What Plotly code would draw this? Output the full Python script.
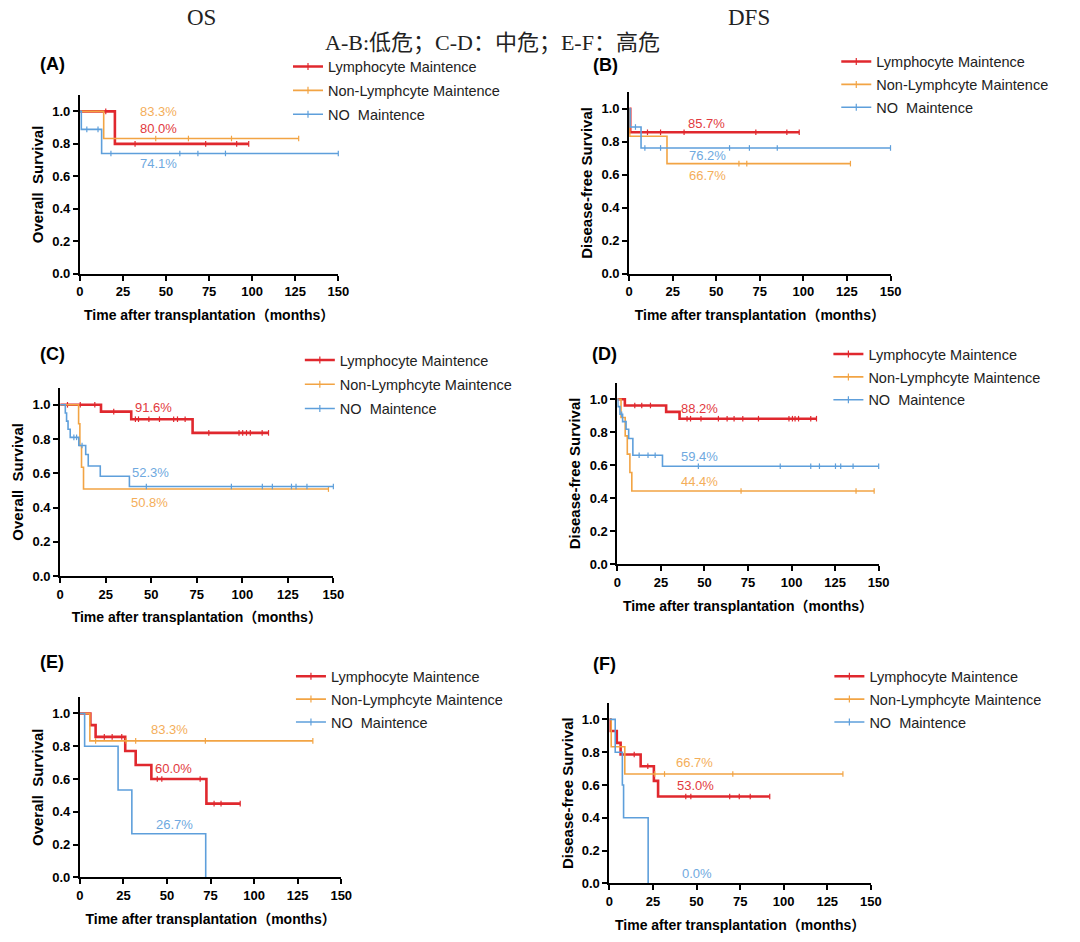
import plotly.graph_objects as go

W, H = 1080, 942
SANS = "Liberation Sans, Arial, Noto Sans CJK SC, sans-serif"
SERIF = "Liberation Serif, Noto Sans CJK SC, serif"

RED, ORANGE, BLUE = "#E0282E", "#F2A444", "#5E9FDB"
RED_T, ORANGE_T, BLUE_T = "#E23A40", "#F4AE5A", "#6FA9E0"

GROUPS = ["Lymphocyte Maintence", "Non-Lymphcyte Maintence", "NO\u00a0 Maintence"]
X_TICKS = [0, 25, 50, 75, 100, 125, 150]
Y_TICKS = [0.0, 0.2, 0.4, 0.6, 0.8, 1.0]
X_TITLE = "Time after transplantation（months）"
Y_TITLE_OS = "Overall\u00a0 Survival"
Y_TITLE_DFS = "Disease-free Survival"

# ---- Panel A (OS, low risk) ----
A_lym_t = [20.3]; A_lym_s = [0.80]; A_lym_end = 98
A_lym_c = [15, 32, 73, 91, 98]
A_non_t = [13.8]; A_non_s = [0.833]; A_non_end = 127
A_non_c = [44, 63, 88, 127]
A_no_t = [0.8, 12.6]; A_no_s = [0.889, 0.741]; A_no_end = 150
A_no_c = [4, 10.5, 18, 58, 68.5, 84.5, 150]
A_lab = ["80.0%", "83.3%", "74.1%"]
A_lab_x = [45.5, 45.5, 45.5]; A_lab_y = [0.895, 1.0, 0.682]

# ---- Panel B (DFS, low risk) ----
B_lym_t = [0.6]; B_lym_s = [0.857]; B_lym_end = 97.6
B_lym_c = [10.5, 18, 31.5, 72.7, 90.5, 97.6]
B_non_t = [0.3, 21.7]; B_non_s = [0.833, 0.667]; B_non_end = 127
B_non_c = [63, 67.5, 127]
B_no_t = [0.5, 6.8]; B_no_s = [0.889, 0.762]; B_no_end = 150
B_no_c = [3.6, 9, 18, 57.6, 69, 85, 150]
B_lab = ["85.7%", "66.7%", "76.2%"]
B_lab_x = [44.4, 44.8, 44.8]; B_lab_y = [0.909, 0.598, 0.718]

# ---- Panel C (OS, intermediate risk) ----
C_lym_t = [22.4, 39, 72.7]; C_lym_s = [0.96, 0.916, 0.836]; C_lym_end = 114.4
C_lym_c = [4, 11, 19, 29.4, 41.3, 43, 48.7, 54.5, 62.3, 64.4, 68.6, 81.6,
           98.2, 100.2, 102.3, 104.4, 110.9, 114.4]
C_non_t = [10.1, 10.8, 11.7, 12.8]; C_non_s = [0.889, 0.762, 0.635, 0.508]; C_non_end = 147.3
C_non_c = [147.3]
C_no_t = [2.8, 3.5, 4.3, 5.5, 10.2, 14, 15.4, 22, 38]
C_no_s = [0.952, 0.905, 0.857, 0.81, 0.762, 0.71, 0.643, 0.583, 0.523]; C_no_end = 150
C_no_c = [7.5, 9, 12, 47.3, 94, 111, 116.5, 127, 129.5, 135.5, 150]
C_lab = ["91.6%", "50.8%", "52.3%"]
C_lab_x = [51.1, 49.3, 49.6]; C_lab_y = [0.987, 0.432, 0.605]

# ---- Panel D (DFS, intermediate risk) ----
D_lym_t = [4.3, 28, 35.7]; D_lym_s = [0.962, 0.923, 0.882]; D_lym_end = 114.3
D_lym_c = [10, 14, 19, 40, 42, 48, 58, 63, 67, 72, 81, 98.5, 100.5, 102, 104, 111, 114.3]
D_non_t = [2.1, 4.5, 5.7, 7.2, 8.3]; D_non_s = [0.889, 0.778, 0.667, 0.556, 0.444]; D_non_end = 147.4
D_non_c = [71, 137, 147.4]
D_no_t = [0.3, 1.5, 3, 5, 6.5, 8.9, 25.9]
D_no_s = [0.955, 0.909, 0.864, 0.818, 0.762, 0.66, 0.594]; D_no_end = 150
D_no_c = [2.5, 12.5, 17.6, 21.7, 46.5, 93.5, 111, 116, 125.2, 128.2, 135.3, 150]
D_lab = ["88.2%", "44.4%", "59.4%"]
D_lab_x = [47.4, 47.0, 47.4]; D_lab_y = [0.946, 0.50, 0.655]

# ---- Panel E (OS, high risk) ----
E_lym_t = [6, 9, 26, 32, 41, 72.6]; E_lym_s = [0.929, 0.857, 0.771, 0.686, 0.600, 0.450]; E_lym_end = 92
E_lym_c = [14, 18.5, 24, 44.4, 47, 69, 77, 81, 92]
E_non_t = [5.7]; E_non_s = [0.833]; E_non_end = 133.7
E_non_c = [9, 26.5, 32, 72, 133.7]
E_no_t = [2.7, 21.9, 29.8, 72.2]; E_no_s = [0.8, 0.533, 0.267, 0.0]; E_no_end = 72.2
E_no_c = []
E_lab = ["60.0%", "83.3%", "26.7%"]
E_lab_x = [53.5, 51.6, 54.5]; E_lab_y = [0.666, 0.901, 0.32]

# ---- Panel F (DFS, high risk) ----
F_lym_t = [0.5, 4.2, 6.4, 17.9, 25.5, 27.9]; F_lym_s = [0.929, 0.857, 0.786, 0.714, 0.625, 0.530]; F_lym_end = 92
F_lym_c = [14.2, 22, 43.8, 46.7, 69, 74.5, 80.8, 92]
F_non_t = [1.0, 8.8]; F_non_s = [0.833, 0.667]; F_non_end = 134
F_non_c = [26, 31.6, 70.8, 134]
F_no_t = [3.3, 7.4, 8.1, 22.2]; F_no_s = [0.8, 0.6, 0.4, 0.0]; F_no_end = 22.2
F_no_c = []
F_lab = ["53.0%", "66.7%", "0.0%"]
F_lab_x = [49.6, 49.0, 50.5]; F_lab_y = [0.595, 0.74, 0.06]

# layout geometry (pixels): axis left, right, top, bottom
PANELS = [
    dict(name="A", box=(77, 339, 96, 276), ytitle=Y_TITLE_OS, label_xy=(49, 65),
         leg=(328, 67, 2.0),
         curves=[(A_lym_t, A_lym_s, A_lym_end, A_lym_c), (A_non_t, A_non_s, A_non_end, A_non_c),
                 (A_no_t, A_no_s, A_no_end, A_no_c)],
         labs=(A_lab, A_lab_x, A_lab_y)),
    dict(name="B", box=(634, 899, 93, 276), ytitle=Y_TITLE_DFS, label_xy=(610, 66),
         leg=(884, 62, 1.0),
         curves=[(B_lym_t, B_lym_s, B_lym_end, B_lym_c), (B_non_t, B_non_s, B_non_end, B_non_c),
                 (B_no_t, B_no_s, B_no_end, B_no_c)],
         labs=(B_lab, B_lab_x, B_lab_y)),
    dict(name="C", box=(57, 334, 391, 581), ytitle=Y_TITLE_OS, label_xy=(49, 357),
         leg=(340, 363, 2.4),
         curves=[(C_lym_t, C_lym_s, C_lym_end, C_lym_c), (C_non_t, C_non_s, C_non_end, C_non_c),
                 (C_no_t, C_no_s, C_no_end, C_no_c)],
         labs=(C_lab, C_lab_x, C_lab_y)),
    dict(name="D", box=(622, 887, 386, 569), ytitle=Y_TITLE_DFS, label_xy=(609, 357),
         leg=(876, 357, 1.0),
         curves=[(D_lym_t, D_lym_s, D_lym_end, D_lym_c), (D_non_t, D_non_s, D_non_end, D_non_c),
                 (D_no_t, D_no_s, D_no_end, D_no_c)],
         labs=(D_lab, D_lab_x, D_lab_y)),
    dict(name="E", box=(77, 342, 703, 885), ytitle=Y_TITLE_OS, label_xy=(49, 668),
         leg=(331, 682, 1.0),
         curves=[(E_lym_t, E_lym_s, E_lym_end, E_lym_c), (E_non_t, E_non_s, E_non_end, E_non_c),
                 (E_no_t, E_no_s, E_no_end, E_no_c)],
         labs=(E_lab, E_lab_x, E_lab_y)),
    dict(name="F", box=(614, 879, 709, 891), ytitle=Y_TITLE_DFS, label_xy=(609, 670),
         leg=(877, 682, 1.0),
         curves=[(F_lym_t, F_lym_s, F_lym_end, F_lym_c), (F_non_t, F_non_s, F_non_end, F_non_c),
                 (F_no_t, F_no_s, F_no_end, F_no_c)],
         labs=(F_lab, F_lab_x, F_lab_y)),
]

COLORS = [RED, ORANGE, BLUE]
TCOLORS = [RED_T, ORANGE_T, BLUE_T]
WIDTHS = [2.6, 1.6, 1.6]


def surv_at(t, times, surv):
    s = 1.0
    for ti, si in zip(times, surv):
        if t >= ti:
            s = si
    return s


fig = go.Figure()
annotations = []
layout = dict(width=W, height=H, margin=dict(l=0, r=0, t=0, b=0),
              paper_bgcolor="white", plot_bgcolor="white", showlegend=True)

for i, p in enumerate(PANELS):
    n = i + 1
    xa = "x" if n == 1 else f"x{n}"
    ya = "y" if n == 1 else f"y{n}"
    lg = "legend" if n == 1 else f"legend{n}"
    l, r, t, b = p["box"]
    axis_common = dict(showline=True, linecolor="black", linewidth=2, ticks="outside",
                       ticklen=5, tickwidth=2, tickcolor="black", showgrid=False,
                       zeroline=False, fixedrange=True,
                       tickfont=dict(family=SANS, size=13, color="black", weight="bold"))
    layout["xaxis" if n == 1 else f"xaxis{n}"] = dict(
        domain=[l / W, r / W], anchor=ya, range=[0, 150], tickvals=X_TICKS,
        title=dict(text=X_TITLE, standoff=12,
                   font=dict(family=SANS, size=14, color="black", weight="bold")),
        **axis_common)
    layout["yaxis" if n == 1 else f"yaxis{n}"] = dict(
        domain=[1 - b / H, 1 - t / H], anchor=xa, range=[0, 1.1], tickvals=Y_TICKS,
        tickformat=".1f",
        title=dict(text=p["ytitle"], standoff=5,
                   font=dict(family=SANS, size=15, color="black", weight="bold")),
        **axis_common)
    tx, ty, gap = p["leg"]
    layout[lg] = dict(x=(tx - 40) / W, y=1 - (ty - 16) / H, xanchor="left", yanchor="top",
                      font=dict(family=SANS, size=14.5, color="#222"),
                      bgcolor="rgba(0,0,0,0)", tracegroupgap=gap, itemwidth=30,
                      traceorder="grouped")

    for k, (times, surv, end, cens) in enumerate(p["curves"]):
        xs = [0] + times + [end]
        ys = [1.0] + surv + [surv[-1]]
        fig.add_trace(go.Scatter(x=xs, y=ys, mode="lines", line=dict(color=COLORS[k], width=WIDTHS[k], shape="hv"),
                                 xaxis=xa, yaxis=ya, showlegend=False, hoverinfo="skip", cliponaxis=False))
        if cens:
            fig.add_trace(go.Scatter(
                x=cens, y=[surv_at(c, times, surv) for c in cens], mode="markers",
                marker=dict(symbol="line-ns", size=4, color=COLORS[k],
                            line=dict(color=COLORS[k], width=1.2)),
                xaxis=xa, yaxis=ya, showlegend=False, hoverinfo="skip", cliponaxis=False))
    for k in range(3):
        fig.add_trace(go.Scatter(
            x=[None], y=[None], mode="lines+markers", name=GROUPS[k],
            line=dict(color=COLORS[k], width=WIDTHS[k]),
            marker=dict(symbol="line-ns", size=5, color=COLORS[k], line=dict(color=COLORS[k], width=1.2)),
            xaxis=xa, yaxis=ya, legend=lg, legendgroup=f"{p['name']}{k}", showlegend=True))

    labs, lxs, lys = p["labs"]
    for k in range(3):
        annotations.append(dict(x=lxs[k], y=lys[k], xref=xa, yref=ya, text=labs[k], showarrow=False,
                                font=dict(family=SANS, size=13, color=TCOLORS[k])))
    lx, ly = p["label_xy"]
    annotations.append(dict(x=lx / W, y=1 - ly / H, xref="paper", yref="paper", text=f"({p['name']})",
                            showarrow=False, xanchor="center", yanchor="middle",
                            font=dict(family=SANS, size=18, color="black", weight="bold")))

annotations.append(dict(x=200 / W, y=1 - 18 / H, xref="paper", yref="paper", text="OS", showarrow=False,
                        xanchor="center", yanchor="middle", font=dict(family=SERIF, size=23, color="#222")))
annotations.append(dict(x=755 / W, y=1 - 18 / H, xref="paper", yref="paper", text="DFS", showarrow=False,
                        xanchor="center", yanchor="middle", font=dict(family=SERIF, size=23, color="#222")))
annotations.append(dict(x=495 / W, y=1 - 43 / H, xref="paper", yref="paper",
                        text="A-B:低危；C-D：中危；E-F：高危", showarrow=False,
                        xanchor="center", yanchor="middle", font=dict(family=SERIF, size=22, color="#222")))

layout["annotations"] = annotations
fig.update_layout(**layout)
fig.write_html("out.html", config={"displayModeBar": False},
               post_script="document.body.style.margin='0';document.body.style.overflow='hidden';")
